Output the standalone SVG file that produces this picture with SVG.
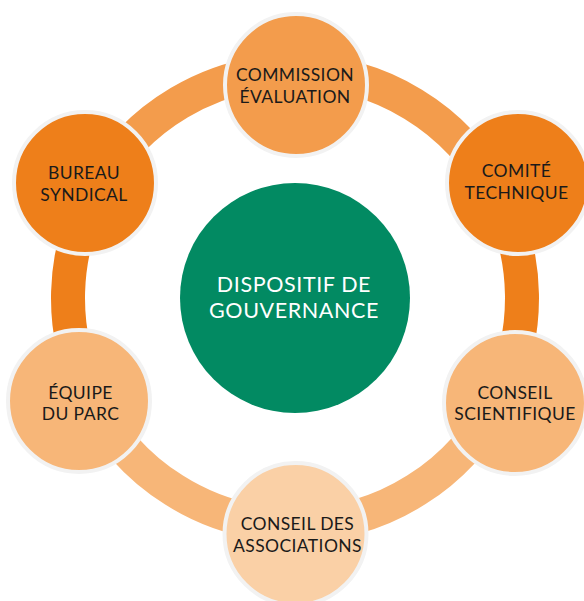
<svg xmlns="http://www.w3.org/2000/svg" width="584" height="601" viewBox="0 0 584 601">
  <style>
    .ring { fill: none; stroke-width: 34; }
    .node { stroke: #f2f2f2; stroke-width: 4; }
    .lbl { font-family: Lato, "Open Sans", "Liberation Sans", sans-serif; font-size: 17.5px; fill: #1a1a1a; text-anchor: middle; letter-spacing: 0.4px; }
    .core { font-family: Lato, "Open Sans", "Liberation Sans", sans-serif; font-size: 21.5px; fill: #ffffff; text-anchor: middle; letter-spacing: 0.6px; }
  </style>
  <rect width="584" height="601" fill="#ffffff"/>

  <!-- ring segments linking the bodies -->
  <g id="connectors">
    <path class="ring" stroke="#f39c4c" d="M295,71 A227,227 0 0 1 496.7,193.9"/>
    <path class="ring" stroke="#ee7f1a" d="M496.7,193.9 A227,227 0 0 1 499.9,395.7"/>
    <path class="ring" stroke="#f7b678" d="M499.9,395.7 A227,227 0 0 1 295,525"/>
    <path class="ring" stroke="#f7b678" d="M295,525 A227,227 0 0 1 90.1,395.7"/>
    <path class="ring" stroke="#ee7f1a" d="M90.1,395.7 A227,227 0 0 1 95.9,189"/>
    <path class="ring" stroke="#f39c4c" d="M95.9,189 A227,227 0 0 1 295,71"/>
  </g>

  <g id="centre">
    <circle cx="295" cy="298" r="115" fill="#028a62"/>
    <text class="core" x="294" y="292">DISPOSITIF DE</text>
    <text class="core" x="294" y="318">GOUVERNANCE</text>
  </g>

  <g id="commission">
    <circle class="node" cx="296" cy="85" r="71" fill="#f39c4c"/>
    <text class="lbl" x="295" y="81">COMMISSION</text>
    <text class="lbl" x="295" y="103">ÉVALUATION</text>
  </g>

  <g id="comite">
    <circle class="node" cx="518" cy="183" r="71" fill="#ee7f1a"/>
    <text class="lbl" x="516.5" y="177">COMITÉ</text>
    <text class="lbl" x="516.5" y="199">TECHNIQUE</text>
  </g>

  <g id="scientifique">
    <circle class="node" cx="515" cy="403" r="71" fill="#f7b678"/>
    <text class="lbl" x="515" y="399">CONSEIL</text>
    <text class="lbl" x="515" y="420">SCIENTIFIQUE</text>
  </g>

  <g id="associations">
    <circle class="node" cx="295.5" cy="534" r="71" fill="#fad0a6"/>
    <text class="lbl" x="297.5" y="530">CONSEIL DES</text>
    <text class="lbl" x="297.5" y="552">ASSOCIATIONS</text>
  </g>

  <g id="equipe">
    <circle class="node" cx="79" cy="401" r="71" fill="#f7b678"/>
    <text class="lbl" x="80.5" y="399">ÉQUIPE</text>
    <text class="lbl" x="80.5" y="420">DU PARC</text>
  </g>

  <g id="bureau">
    <circle class="node" cx="85" cy="183" r="71" fill="#ee7f1a"/>
    <text class="lbl" x="84" y="179">BUREAU</text>
    <text class="lbl" x="84" y="201">SYNDICAL</text>
  </g>
</svg>
